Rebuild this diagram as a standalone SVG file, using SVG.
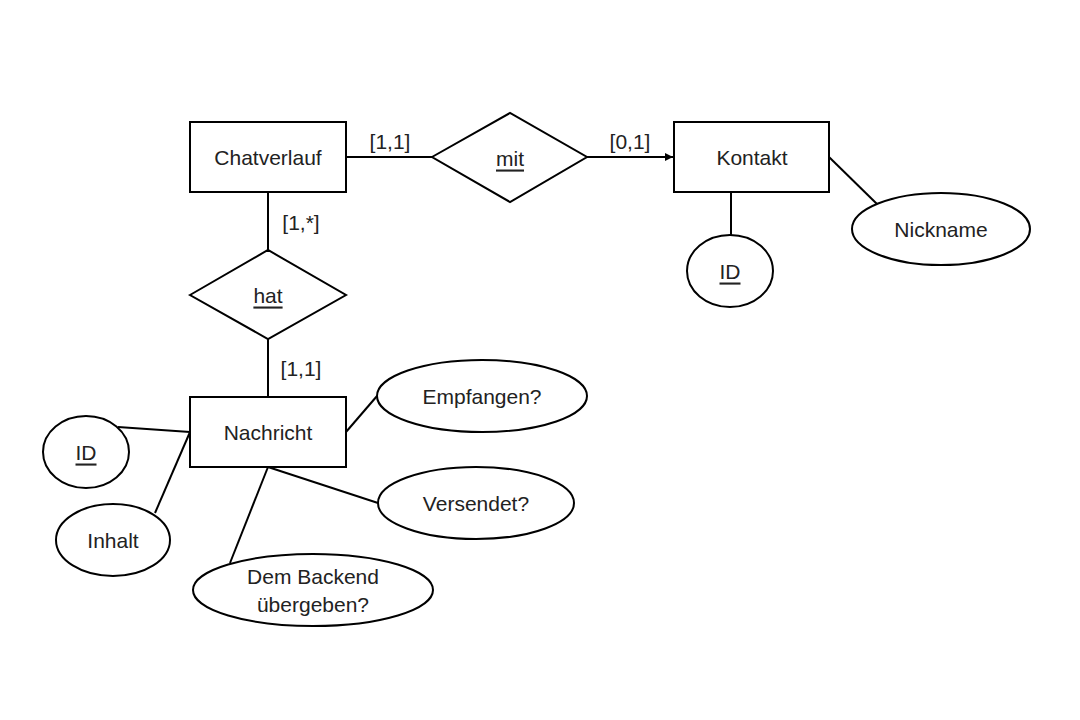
<svg xmlns="http://www.w3.org/2000/svg" width="1080" height="720" viewBox="0 0 1080 720">
<defs>
<style>
.s{fill:#fff;stroke:#000;stroke-width:2}
.c{stroke:#000;stroke-width:2;fill:none}
text{font-family:"Liberation Sans",Arial,sans-serif;font-size:21px;fill:#222;text-anchor:middle;dominant-baseline:central}
.u{text-decoration:underline}
</style>
<marker id="ah" viewBox="0 0 10 10" refX="10" refY="5" markerWidth="4" markerHeight="4" orient="auto"><path d="M0,0L10,5L0,10z" fill="#000"/></marker>
</defs>
<rect width="1080" height="720" fill="#fff"/>
<g id="connectors">
<line class="c" x1="346" y1="157" x2="432" y2="157"/>
<line class="c" x1="587" y1="157" x2="673" y2="157" marker-end="url(#ah)"/>
<line class="c" x1="268" y1="192" x2="268" y2="250"/>
<line class="c" x1="268" y1="339" x2="268" y2="397"/>
<line class="c" x1="731" y1="192" x2="731" y2="235"/>
<line class="c" x1="829" y1="157" x2="877" y2="204"/>
<line class="c" x1="118" y1="427" x2="190" y2="432"/>
<line class="c" x1="155" y1="513" x2="190" y2="432"/>
<line class="c" x1="346" y1="432" x2="377" y2="396"/>
<line class="c" x1="268" y1="467" x2="378" y2="503"/>
<line class="c" x1="268" y1="467" x2="230" y2="563"/>
<text x="390" y="141">[1,1]</text>
<text x="630" y="141">[0,1]</text>
<text x="301" y="222">[1,*]</text>
<text x="301" y="368">[1,1]</text>
</g>
<g id="chatverlauf"><rect class="s" x="190" y="122" width="156" height="70"/><text x="268" y="157">Chatverlauf</text></g>
<g id="mit"><polygon class="s" points="432,157 510,113 587,157 510,202"/><text class="u" x="510" y="158">mit</text></g>
<g id="kontakt"><rect class="s" x="674" y="122" width="155" height="70"/><text x="752" y="157">Kontakt</text></g>
<g id="kontakt-id"><ellipse class="s" cx="730" cy="271" rx="43" ry="36"/><text class="u" x="730" y="271">ID</text></g>
<g id="nickname"><ellipse class="s" cx="941" cy="229" rx="89" ry="36"/><text x="941" y="229">Nickname</text></g>
<g id="hat"><polygon class="s" points="190,295 268,250 346,295 268,339"/><text class="u" x="268" y="295">hat</text></g>
<g id="nachricht"><rect class="s" x="190" y="397" width="156" height="70"/><text x="268" y="432">Nachricht</text></g>
<g id="nachricht-id"><ellipse class="s" cx="86" cy="452" rx="43" ry="36"/><text class="u" x="86" y="452">ID</text></g>
<g id="inhalt"><ellipse class="s" cx="113" cy="540" rx="57" ry="36"/><text x="113" y="540">Inhalt</text></g>
<g id="empfangen"><ellipse class="s" cx="482" cy="396" rx="105" ry="36"/><text x="482" y="396">Empfangen?</text></g>
<g id="versendet"><ellipse class="s" cx="476" cy="503" rx="98" ry="36"/><text x="476" y="503">Versendet?</text></g>
<g id="backend"><ellipse class="s" cx="313" cy="590" rx="120" ry="36"/><text x="313" y="576">Dem Backend</text><text x="313" y="604">übergeben?</text></g>
</svg>
